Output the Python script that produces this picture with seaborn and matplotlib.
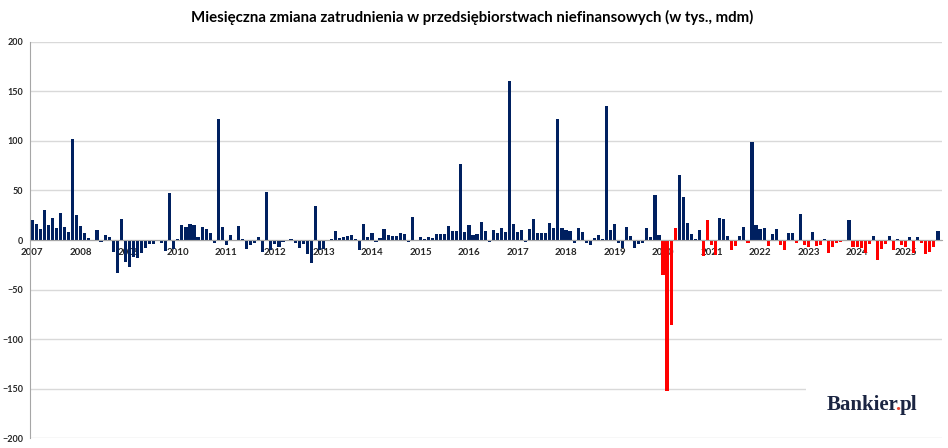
import numpy as np
import pandas as pd
import matplotlib
matplotlib.use('Agg')
import matplotlib.pyplot as plt
from matplotlib.patches import Rectangle
from matplotlib.text import Annotation
import seaborn as sns

# miesieczna zmiana zatrudnienia, tys. (odczyt z wykresu)
z2007 = [20, 16, 11, 30, 15, 22, 12, 27, 13, 8, 102, 25]
z2008 = [14, 7, 2, 0, 10, -2, 5, 3, -12, -33, 21, -22]
z2009 = [-27, -17, -18, -13, -8, -4, -4, 0, -3, -11, 47, -9]
z2010 = [1, 15, 13, 16, 15, 3, 13, 11, 7, -3, 122, 13]
z2011 = [-5, 5, 0, 14, 1, -9, -5, -3, 3, -12, 48, -10]
z2012 = [-4, -7, -2, 0, 1, -3, -8, -4, -14, -23, 34, -10]
z2013 = [-9, 0, 1, 9, 2, 3, 4, 5, 1, -10, 16, 3]
z2014 = [7, -2, 2, 11, 5, 4, 4, 7, 6, -2, 23, -1]
z2015 = [3, 1, 3, 2, 6, 6, 6, 14, 9, 9, 77, 8]
z2016 = [15, 5, 6, 18, 9, -2, 10, 7, 12, 8, 161, 16]
z2017 = [8, 10, -2, 11, 21, 7, 7, 7, 17, 12, 122, 12]
z2018 = [10, 9, -3, 12, 8, -3, -5, 2, 5, 1, 135, 10]
z2019 = [16, -3, -8, 13, 4, -8, -4, -3, 12, 3, 45, 5]
z2020 = [-35, -153, -86, 12, 66, 43, 17, 6, 1, 10, -16, 20]
z2021 = [-5, -15, 22, 21, 4, -10, -6, 4, 13, -3, 99, 15]
z2022 = [11, 12, -6, 6, 11, -5, -10, 7, 7, -3, 26, -5]
z2023 = [-7, 8, -6, -5, 1, -13, -7, -3, -2, -1, 20, -7]
z2024 = [-7, -8, -13, -4, 4, -20, -9, -4, 4, -10, 1, -5]
z2025 = [-7, 3, -13, 3, -3, -14, -12, -7, 9]

lata = list(range(2007, 2026))
wyroznione_dodatnie = ['2020-04', '2020-12']
tytul = 'Miesięczna zmiana zatrudnienia w przedsiębiorstwach niefinansowych (w tys., mdm)'

zmiany = (z2007 + z2008 + z2009 + z2010 + z2011 + z2012 + z2013 + z2014 + z2015 + z2016
          + z2017 + z2018 + z2019 + z2020 + z2021 + z2022 + z2023 + z2024 + z2025)
daty = pd.period_range('2007-01', periods=len(zmiany), freq='M')

df = pd.DataFrame({'miesiac': daty.astype(str), 'zmiana': zmiany})
po_2020 = np.asarray(daty >= pd.Period('2020-01', 'M'))
df['kolor'] = np.where((po_2020 & (df['zmiana'] < 0)) | df['miesiac'].isin(wyroznione_dodatnie),
                       'czerwony', 'granat')

sns.set_theme(style='white')
plt.rcParams['font.family'] = ['Lato', 'DejaVu Sans']

fig = plt.figure(figsize=(9.48, 4.48), dpi=100)
ax = fig.add_axes([30 / 948, 10 / 448, 912 / 948, 396 / 448])

sns.barplot(data=df, x='miesiac', y='zmiana', hue='kolor', order=df['miesiac'],
            palette={'granat': '#002060', 'czerwony': '#FF0000'}, dodge=False,
            width=0.78, saturation=1, legend=False, linewidth=0, ax=ax)

ax.set_ylim(-200, 200)
ax.set_xlim(-0.57, len(zmiany))
ax.set_yticks(range(-200, 201, 50))
ax.yaxis.grid(True, color='#D9D9D9', linewidth=1)
ax.set_xlabel('')
ax.set_ylabel('')

# os X w zerze, etykiety lat przy styczniu
ax.spines['bottom'].set_position(('data', 0))
for s in ['top', 'right']:
    ax.spines[s].set_visible(False)
for s in ['bottom', 'left']:
    ax.spines[s].set_color('#A6A6A6')
    ax.spines[s].set_linewidth(0.8)

ax.set_xticks([(r - 2007) * 12 for r in lata], labels=[str(r) for r in lata])
ax.set_xticks(np.arange(len(zmiany)) + 0.5, minor=True)
ax.tick_params(axis='x', which='major', length=0, pad=6, labelsize=7)
ax.tick_params(axis='x', which='minor', length=2, direction='inout', color='#A6A6A6', width=0.6)
ax.tick_params(axis='y', length=0, pad=5, labelsize=6.5)
for t in ax.get_xticklabels() + ax.get_yticklabels():
    t.set_fontweight('bold')

fig.text(0.4985, 1 - 17 / 448, tytul, ha='center', va='center',
         fontsize=10.8, fontweight='bold', color='#000000')

# logo
fig.patches.append(Rectangle((806 / 948, 1 - 432 / 448), 140 / 948, 50 / 448,
                             transform=fig.transFigure, facecolor='white',
                             edgecolor='none', zorder=5))
styl = dict(fontsize=15, fontweight='bold', family='Liberation Serif', zorder=6)
logo = fig.text(827 / 948, 1 - 415 / 448, 'Bankier', ha='left', va='bottom',
                color='#1B2542', **styl)
kropka = Annotation('.', xy=(1, 0), xycoords=logo, xytext=(-2.5, 0),
                    textcoords='offset points', ha='left', va='bottom',
                    color='#E8412C', **styl)
fig.add_artist(kropka)
fig.add_artist(Annotation('pl', xy=(1, 0), xycoords=kropka, xytext=(-0.5, 0),
                          textcoords='offset points', ha='left', va='bottom',
                          color='#1B2542', **styl))

fig.savefig('out.png', dpi=100)
